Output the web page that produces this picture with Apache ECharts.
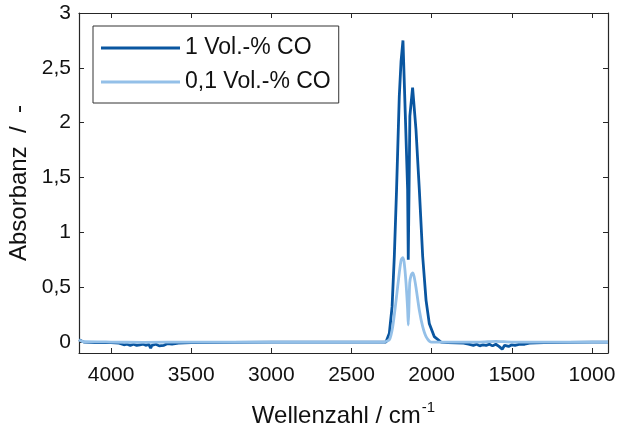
<!DOCTYPE html>
<html>
<head>
<meta charset="utf-8">
<script src="https://cdn.jsdelivr.net/npm/echarts@6/dist/echarts.min.js"></script>
<style>
  html, body { margin: 0; padding: 0; background: #fff; }
  #chart { width: 617px; height: 436px; }
</style>
</head>
<body>
<div id="chart"></div>
<script>
// Wellenzahl / cm-1, Absorbanz
var seriesNames = ['1 Vol.-% CO', '0,1 Vol.-% CO'];

var co1 = [
  [4200, 0.02], [4190, 0.01], [4170, 0.0], [4100, -0.005], [4000, -0.005],
  [3950, -0.01], [3920, -0.025], [3900, -0.02], [3880, -0.03], [3860, -0.02],
  [3840, -0.03], [3820, -0.025], [3800, -0.02], [3780, -0.03], [3765, -0.02],
  [3753, -0.055], [3745, -0.03], [3720, -0.02], [3700, -0.035], [3690, -0.02],
  [3670, -0.03], [3650, -0.015], [3620, -0.02], [3580, -0.01], [3500, -0.005],
  [3000, 0], [2500, 0], [2300, 0], [2285, 0.0], [2264, 0.08], [2247, 0.32],
  [2233, 0.78], [2219, 1.39], [2202, 2.24], [2191, 2.56], [2179, 2.75],
  [2165, 2.1], [2150, 1.39], [2146, 0.75], [2144, 0.75], [2141, 1.39],
  [2136, 2.06], [2119, 2.32], [2098, 1.94], [2077, 1.39], [2056, 0.78],
  [2035, 0.38], [2015, 0.17], [1984, 0.05], [1942, 0.0], [1900, -0.005],
  [1800, -0.01], [1770, -0.02], [1740, -0.03], [1720, -0.02], [1700, -0.035],
  [1680, -0.025], [1660, -0.03], [1640, -0.02], [1620, -0.035], [1600, -0.02],
  [1580, -0.04], [1560, -0.065], [1545, -0.03], [1520, -0.04], [1500, -0.025],
  [1480, -0.03], [1450, -0.02], [1420, -0.02], [1390, -0.01], [1300, -0.005],
  [1000, 0], [900, 0]
];

var co01 = [
  [4200, 0.02], [4180, 0.005], [4000, 0.0], [3800, -0.003], [3500, 0.0],
  [3000, 0.0], [2500, 0.0], [2300, 0.0], [2264, 0.02], [2243, 0.14],
  [2222, 0.38], [2202, 0.63], [2190, 0.75], [2181, 0.77], [2172, 0.73],
  [2160, 0.54], [2150, 0.3], [2146, 0.155], [2142, 0.3], [2137, 0.54],
  [2128, 0.61], [2119, 0.63], [2110, 0.6], [2098, 0.5], [2077, 0.29],
  [2056, 0.14], [2035, 0.05], [2004, 0.0], [1700, 0.0], [1600, 0.006],
  [1500, 0.0], [900, 0.0]
];

var colors = ['#0a56a0', '#94c0e8'];
var fontFam = '"Liberation Sans", Arial, sans-serif';
var axisCol = '#262626';

function comma(v) { return String(v).replace('.', ','); }

var chart = echarts.init(document.getElementById('chart'));

var option = {
  animation: false,
  textStyle: { fontFamily: fontFam },
  grid: { left: 79, right: 9, top: 13, bottom: 83, containLabel: false, outerBoundsMode: 'none' },
  legend: {
    orient: 'vertical',
    left: 93,
    top: 26,
    padding: [10, 8, 9, 8],
    itemGap: 10,
    itemWidth: 79,
    itemHeight: 3,
    icon: 'rect',
    borderColor: '#333',
    borderWidth: 1,
    borderRadius: 0,
    backgroundColor: '#fff',
    textStyle: { fontSize: 23, lineHeight: 24, color: '#111', fontFamily: fontFam },
    data: seriesNames
  },
  xAxis: [{
    type: 'value',
    min: 900,
    max: 4200,
    inverse: true,
    name: '{a|Wellenzahl / cm}{b|-1}',
    nameLocation: 'middle',
    nameGap: 47,
    nameTextStyle: {
      rich: {
        a: { fontSize: 24, color: '#111', fontFamily: fontFam, lineHeight: 28, verticalAlign: 'bottom' },
        b: { fontSize: 15, color: '#111', fontFamily: fontFam, lineHeight: 28, verticalAlign: 'top', padding: [0, 0, 0, 1] }
      }
    },
    axisLine: { show: true, onZero: false, lineStyle: { color: axisCol, width: 1.2 } },
    axisTick: { show: true, inside: true, length: 5, lineStyle: { color: axisCol } },
    axisLabel: { fontSize: 21, color: '#111', margin: 12, showMinLabel: false, showMaxLabel: false, formatter: comma },
    splitLine: { show: false }
  }, {
    type: 'value',
    position: 'top',
    min: 900,
    max: 4200,
    inverse: true,
    axisLine: { show: true, onZero: false, lineStyle: { color: axisCol, width: 1.2 } },
    axisTick: { show: true, inside: true, length: 5, lineStyle: { color: axisCol } },
    axisLabel: { show: false },
    splitLine: { show: false }
  }],
  yAxis: [{
    type: 'value',
    min: -0.1,
    max: 3,
    name: 'Absorbanz  /  -',
    nameLocation: 'middle',
    nameGap: 45,
    nameTextStyle: { fontSize: 24, color: '#111', fontFamily: fontFam },
    axisLine: { show: true, onZero: false, lineStyle: { color: axisCol, width: 1.2 } },
    axisTick: { show: true, inside: true, length: 5, lineStyle: { color: axisCol } },
    axisLabel: { fontSize: 21, color: '#111', margin: 8, showMinLabel: false, formatter: comma },
    splitLine: { show: false }
  }, {
    type: 'value',
    position: 'right',
    min: -0.1,
    max: 3,
    axisLine: { show: true, onZero: false, lineStyle: { color: axisCol, width: 1.2 } },
    axisTick: { show: true, inside: true, length: 5, lineStyle: { color: axisCol } },
    axisLabel: { show: false },
    splitLine: { show: false }
  }],
  series: [{
    name: seriesNames[0],
    type: 'line',
    data: co1,
    symbol: 'none',
    showSymbol: false,
    lineStyle: { color: colors[0], width: 2.8 },
    itemStyle: { color: colors[0] }
  }, {
    name: seriesNames[1],
    type: 'line',
    data: co01,
    symbol: 'none',
    showSymbol: false,
    smooth: 0.2,
    lineStyle: { color: colors[1], width: 2.8 },
    itemStyle: { color: colors[1] }
  }]
};

chart.setOption(option);
</script>
</body>
</html>
